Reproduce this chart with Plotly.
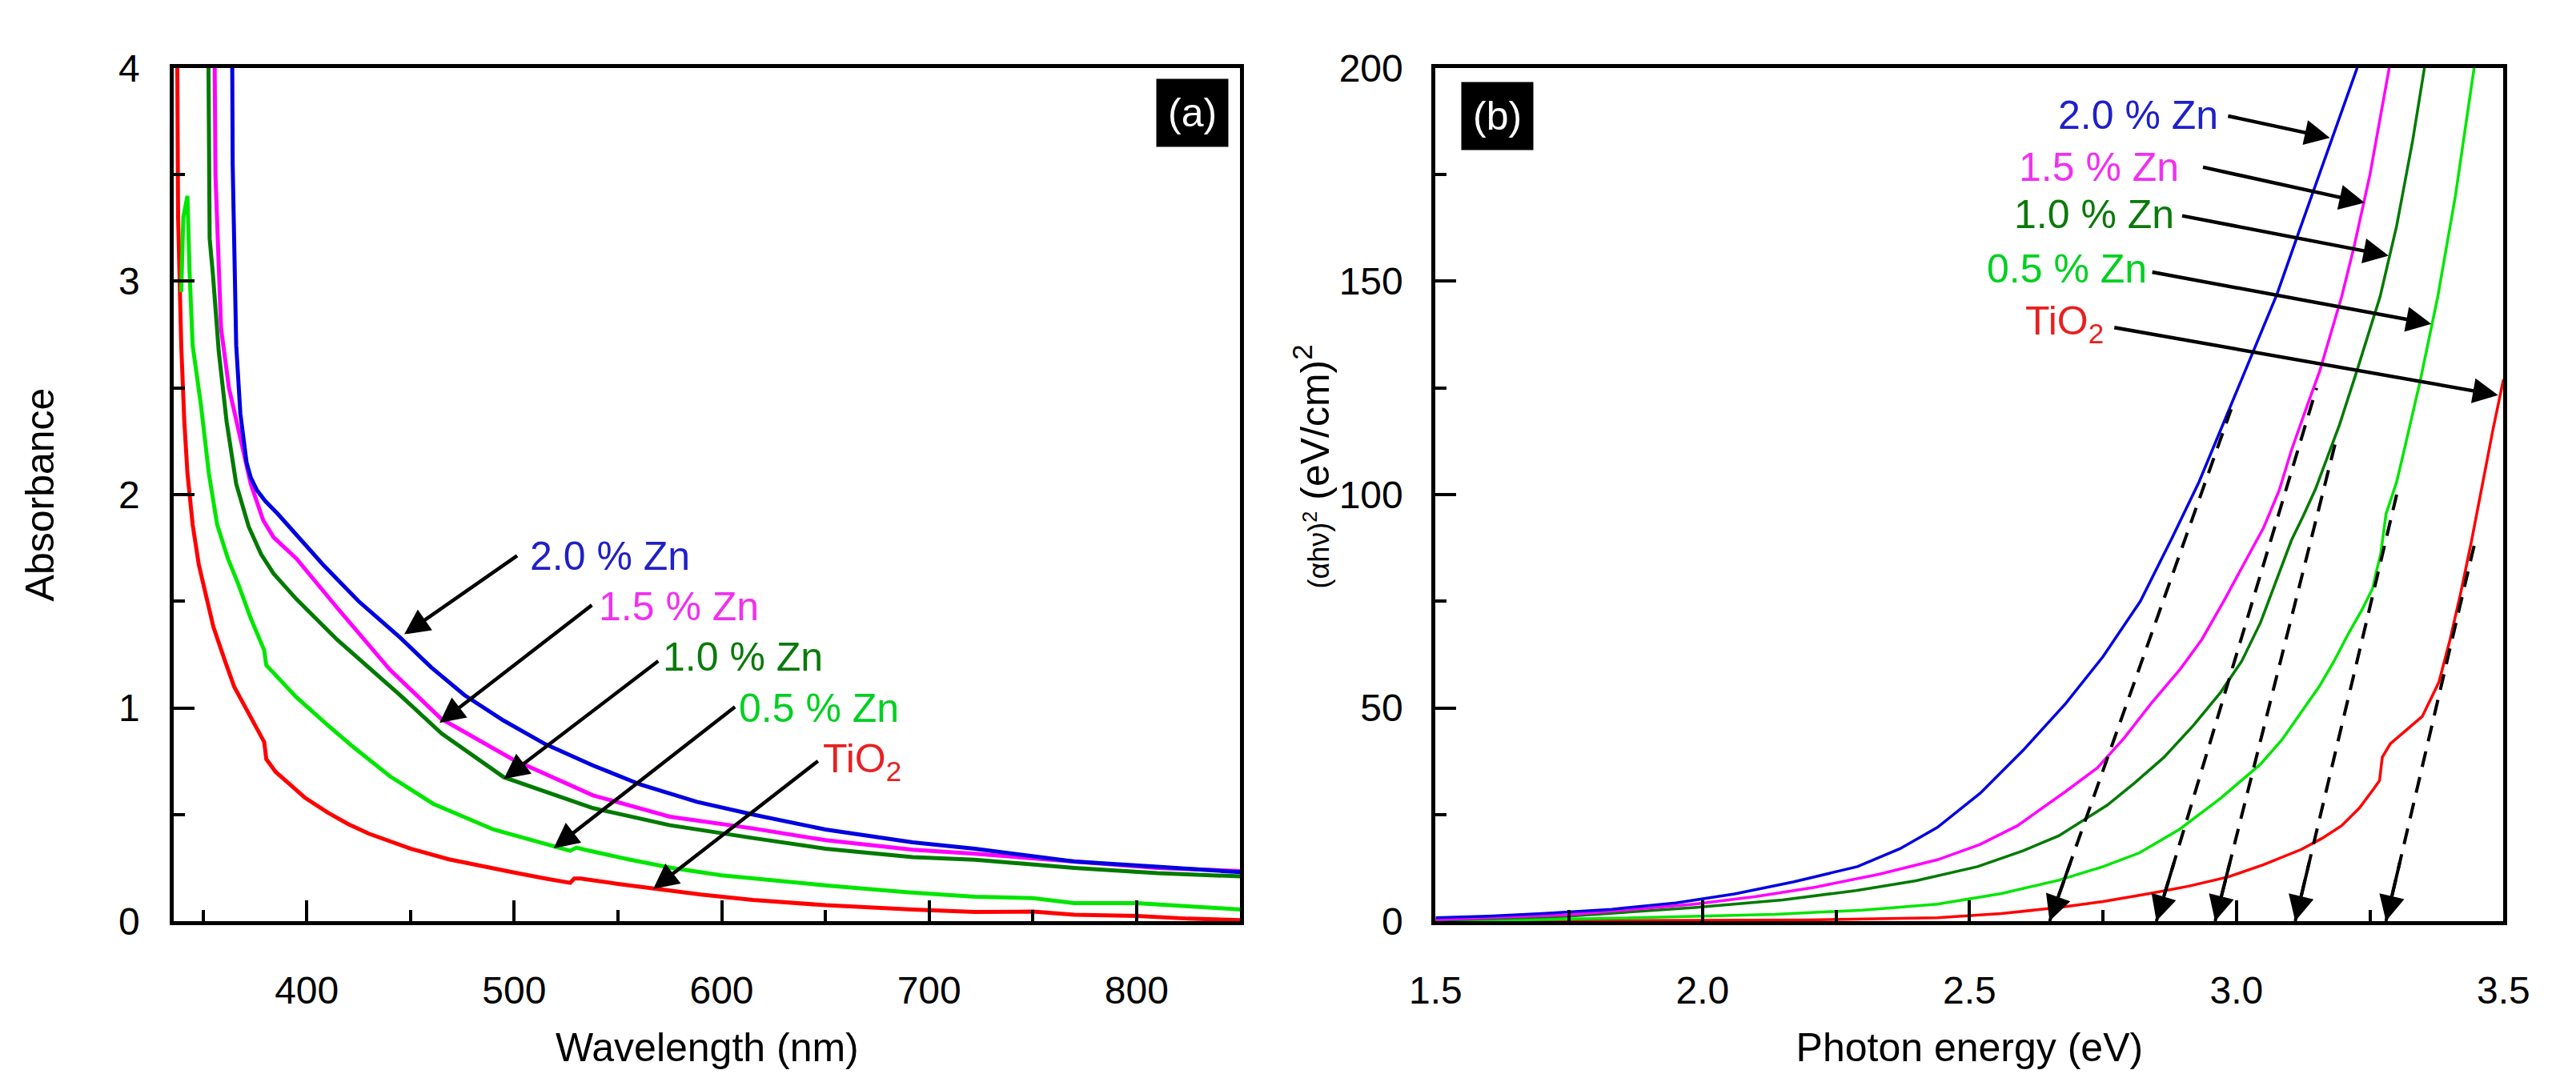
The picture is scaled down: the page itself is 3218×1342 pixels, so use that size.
import plotly.graph_objects as go

# ---- panel (a): absorbance vs wavelength (nm) ----
wl_tio2 = [337.5, 338, 339.5, 341, 342.5, 345, 348, 351, 355, 360.6, 365, 370, 375, 379.5, 380.5,
           385, 392, 399, 410, 420, 430, 450, 468.5, 485, 499, 515, 527, 529, 532, 550, 569, 590,
           615, 650, 692, 722, 750, 770, 800, 825, 850]
abs_tio2 = [4.2, 3.3, 2.7, 2.34, 2.1, 1.86, 1.67, 1.55, 1.38, 1.22, 1.1, 1.01, 0.92, 0.84, 0.76,
            0.70, 0.64, 0.58, 0.51, 0.455, 0.41, 0.34, 0.29, 0.26, 0.23, 0.20, 0.18, 0.20, 0.20, 0.175, 0.15, 0.125,
            0.10, 0.075, 0.055, 0.043, 0.045, 0.03, 0.025, 0.012, 0.005]

wl_zn05 = [339.5, 340.5, 342.5, 343.5, 345, 349, 352.8, 356.8, 362, 367, 373, 378, 379.5, 380.5,
           390, 395, 410, 422, 440, 461, 490, 515, 527, 530, 534, 555, 576, 600, 625, 653, 690,
           722, 750, 770, 800, 825, 850]
abs_zn05 = [2.95, 3.3, 3.40, 3.05, 2.7, 2.42, 2.10, 1.86, 1.70, 1.58, 1.42, 1.30, 1.27, 1.20,
            1.10, 1.05, 0.92, 0.82, 0.68, 0.55, 0.43, 0.36, 0.33, 0.345, 0.335, 0.29, 0.25, 0.215, 0.19, 0.165, 0.135,
            0.115, 0.108, 0.085, 0.085, 0.07, 0.055]

wl_zn10 = [352.5, 353.2, 354.8, 357.6, 361.4, 366, 372, 378, 384, 395, 414.6, 445, 465, 495, 538,
           575, 615, 650, 692, 722, 770, 810, 850]
abs_zn10 = [4.2, 3.2, 3.03, 2.67, 2.34, 2.05, 1.85, 1.72, 1.63, 1.51, 1.32, 1.06, 0.88, 0.675, 0.53,
            0.45, 0.39, 0.34, 0.30, 0.288, 0.25, 0.225, 0.21]

wl_zn15 = [355.5, 356, 357, 358.7, 362.5, 368, 373, 379, 384, 395, 414.6, 440, 464.7, 499, 538,
           575, 615, 650, 692, 722, 770, 810, 850]
abs_zn15 = [4.2, 3.5, 3.23, 2.78, 2.5, 2.26, 2.05, 1.88, 1.80, 1.70, 1.47, 1.18, 0.95, 0.76, 0.59,
            0.49, 0.435, 0.38, 0.335, 0.316, 0.28, 0.25, 0.235]

wl_zn20 = [364, 364.3, 366, 368, 371, 373, 376, 380, 386, 395, 408, 425, 445, 460, 476, 495, 515,
           538, 561, 588, 615, 650, 692, 722, 770, 810, 850]
abs_zn20 = [4.2, 3.55, 2.7, 2.38, 2.15, 2.08, 2.02, 1.97, 1.91, 1.81, 1.67, 1.50, 1.33, 1.19, 1.06, 0.94, 0.83,
            0.73, 0.64, 0.56, 0.50, 0.43, 0.37, 0.34, 0.28, 0.255, 0.23]

# ---- panel (b): (alpha h nu)^2 vs photon energy (eV) ----
ev_tio2 = [1.5, 2.0, 2.2, 2.44, 2.56, 2.667, 2.75, 2.833, 2.91, 2.985, 3.05, 3.121, 3.16, 3.197, 3.23,
           3.258, 3.268, 3.273, 3.288, 3.32, 3.348, 3.379, 3.40, 3.42, 3.44, 3.46, 3.48, 3.50]
tauc_tio2 = [0, 0.1, 0.3, 0.8, 1.8, 3.2, 4.6, 6.4, 8.2, 10.4, 13.2, 16.8, 19.4, 22.4, 26.5,
             31.2, 33, 38.4, 41.6, 45, 48, 56, 66, 77, 89, 102, 115, 127]

ev_zn05 = [1.5, 1.8, 2.136, 2.3, 2.44, 2.56, 2.667, 2.75, 2.818, 2.894, 2.97, 3.045, 3.085, 3.121, 3.155,
           3.182, 3.21, 3.235, 3.255, 3.262, 3.27, 3.28, 3.3, 3.314, 3.344, 3.377, 3.41, 3.445]
tauc_zn05 = [0, 0.6, 1.6, 2.6, 4, 6.5, 9.6, 12.8, 16, 21.6, 28.8, 36.8, 42.5, 48.8, 55,
             60.8, 67.5, 73, 78, 82, 86, 95.4, 103, 110.4, 126.6, 146.4, 170, 200]

ev_zn10 = [1.5, 1.75, 1.985, 2.15, 2.288, 2.4, 2.515, 2.6, 2.667, 2.758, 2.81, 2.864, 2.92, 2.97, 3.01,
           3.045, 3.075, 3.103, 3.125, 3.148, 3.193, 3.224, 3.269, 3.30, 3.33, 3.352]
tauc_zn10 = [0.2, 1.2, 3.2, 5, 7.2, 9.5, 12.8, 16.5, 20, 27.2, 32.5, 38.4, 46, 53.6, 61,
             70, 80, 89.3, 95, 101.3, 116.4, 128.4, 146.4, 163, 183, 200]

ev_zn15 = [1.5, 1.75, 1.985, 2.1, 2.212, 2.33, 2.44, 2.52, 2.59, 2.68, 2.74, 2.79, 2.84, 2.894, 2.935,
           2.976, 3.015, 3.051, 3.08, 3.103, 3.13, 3.156, 3.197, 3.22, 3.25, 3.286]
tauc_zn15 = [0.4, 1.5, 4, 5.8, 8, 11, 14.4, 18, 22.4, 30.4, 36, 43, 51, 59, 66,
             75, 84, 92.3, 101, 110.4, 120, 129, 146.4, 158, 175, 200]

ev_zn20 = [1.5, 1.6, 1.7, 1.83, 1.95, 2.06, 2.17, 2.29, 2.37, 2.44, 2.52, 2.60, 2.68, 2.75, 2.82,
           2.88, 2.93, 2.98, 3.03, 3.076, 3.111, 3.145, 3.18, 3.226]
tauc_zn20 = [0.8, 1.2, 1.8, 2.8, 4.3, 6.4, 9.2, 12.8, 17, 22, 30, 40, 51, 62, 75,
             90, 103, 118, 133, 147, 159.5, 171.5, 184, 200]

# tangent extrapolations: band gap intercept and upper end of each dashed line
gap_ev = [2.65, 2.85, 2.96, 3.11, 3.28]
tan_top_ev = [2.99, 3.15, 3.185, 3.30, 3.445]
tan_top_val = [120, 125, 112, 100, 88]

names = ["TiO<sub>2</sub>", "0.5 % Zn", "1.0 % Zn", "1.5 % Zn", "2.0 % Zn"]
line_colors = ["#FF0000", "#00E600", "#007A00", "#FF00FF", "#0000E0"]
text_colors = ["#E82020", "#00D020", "#0A7A0A", "#F030F0", "#2020C8"]

# label anchors (a): text left edge, arrow tail, arrow tip
lab_a_x = [648, 607.5, 571, 540, 507]
lab_a_y = [0.75, 1.0, 1.237, 1.475, 1.712]
arr_a_tail_x = [647, 607, 570, 538, 502]
arr_a_tail_y = [0.755, 1.009, 1.224, 1.486, 1.717]
arr_a_tip_x = [567, 519, 495, 464, 447]
arr_a_tip_y = [0.151, 0.342, 0.667, 0.93, 1.345]

# label anchors (b): text right edge, arrow tail, arrow tip
lab_b_x = [2.754, 2.836, 2.887, 2.896, 2.969]
lab_b_y = [140, 152.9, 165.7, 176.8, 189]
arr_b_tail_x = [2.769, 2.84, 2.896, 2.935, 2.982]
arr_b_tail_y = [139.2, 152.2, 165.4, 176.8, 188.8]
arr_b_tip_x = [3.49, 3.365, 3.285, 3.24, 3.175]
arr_b_tip_y = [123.3, 140, 156, 168.4, 183.6]

FONT = "Arial, Liberation Sans, sans-serif"

fig = go.Figure()

series_a = [(wl_tio2, abs_tio2), (wl_zn05, abs_zn05), (wl_zn10, abs_zn10),
            (wl_zn15, abs_zn15), (wl_zn20, abs_zn20)]
series_b = [(ev_tio2, tauc_tio2), (ev_zn05, tauc_zn05), (ev_zn10, tauc_zn10),
            (ev_zn15, tauc_zn15), (ev_zn20, tauc_zn20)]

for (xs, ys), c in zip(series_a, line_colors):
    fig.add_trace(go.Scatter(x=xs, y=ys, mode="lines", line=dict(color=c, width=5),
                             xaxis="x", yaxis="y", showlegend=False))

for (xs, ys), c in zip(series_b, line_colors):
    fig.add_trace(go.Scatter(x=xs, y=ys, mode="lines", line=dict(color=c, width=3.5),
                             xaxis="x2", yaxis="y2", showlegend=False))

for g, te, tv in zip(gap_ev, tan_top_ev, tan_top_val):
    fig.add_trace(go.Scatter(x=[g, te], y=[0, tv], mode="lines",
                             line=dict(color="black", width=4, dash="20px,13px"),
                             xaxis="x2", yaxis="y2", showlegend=False))

ann = []
for i in range(5):
    # panel (a)
    ann.append(dict(x=arr_a_tip_x[i], y=arr_a_tip_y[i], ax=arr_a_tail_x[i], ay=arr_a_tail_y[i],
                    xref="x", yref="y", axref="x", ayref="y", text="", showarrow=True,
                    arrowhead=2, arrowsize=1.4, arrowwidth=4.5, arrowcolor="black",
                    standoff=0, startstandoff=0))
    ann.append(dict(x=lab_a_x[i], y=lab_a_y[i], xref="x", yref="y", text=names[i],
                    showarrow=False, xanchor="left", yanchor="middle",
                    font=dict(family=FONT, size=50, color=text_colors[i])))
    # panel (b)
    ann.append(dict(x=arr_b_tip_x[i], y=arr_b_tip_y[i], ax=arr_b_tail_x[i], ay=arr_b_tail_y[i],
                    xref="x2", yref="y2", axref="x2", ayref="y2", text="", showarrow=True,
                    arrowhead=2, arrowsize=1.4, arrowwidth=4.5, arrowcolor="black",
                    standoff=0, startstandoff=0))
    ann.append(dict(x=lab_b_x[i], y=lab_b_y[i], xref="x2", yref="y2", text=names[i],
                    showarrow=False, xanchor="right", yanchor="middle",
                    font=dict(family=FONT, size=50, color=text_colors[i])))

# arrowheads at the bottom of the dashed tangent lines
for g, te, tv in zip(gap_ev, tan_top_ev, tan_top_val):
    f = 14.0 / tv
    ann.append(dict(x=g, y=0, ax=g + (te - g) * f, ay=tv * f,
                    xref="x2", yref="y2", axref="x2", ayref="y2", text="", showarrow=True,
                    arrowhead=2, arrowsize=1.6, arrowwidth=4, arrowcolor="black",
                    standoff=0, startstandoff=0))

ann.append(dict(x=0.989, y=0.988, xref="x domain", yref="y domain", text="(a)",
                showarrow=False, xanchor="right", yanchor="top", bgcolor="black",
                borderpad=14, font=dict(family=FONT, size=50, color="white")))
ann.append(dict(x=0.0235, y=0.984, xref="x2 domain", yref="y2 domain", text="(b)",
                showarrow=False, xanchor="left", yanchor="top", bgcolor="black",
                borderpad=14, font=dict(family=FONT, size=50, color="white")))

# y title of panel (b), placed as rotated text
ann.append(dict(x=0.5071, y=0.574, xref="paper", yref="paper", textangle=-90,
                text="<span style='font-size:36px'>(αhν)<sup>2</sup></span> (eV/cm)<sup>2</sup>",
                showarrow=False, xanchor="center", yanchor="middle",
                font=dict(family=FONT, size=50, color="black")))

axis_common = dict(showline=True, linewidth=5, linecolor="black", mirror=True,
                   ticks="inside", ticklen=26, tickwidth=4, tickcolor="black",
                   showgrid=False, zeroline=False,
                   tickfont=dict(family=FONT, size=48, color="black"))
minor_common = dict(ticks="inside", ticklen=14, tickwidth=4, tickcolor="black", showgrid=False)

fig.update_layout(
    width=3218, height=1342, autosize=False,
    margin=dict(l=0, r=0, t=0, b=0),
    paper_bgcolor="white", plot_bgcolor="white",
    font=dict(family=FONT, size=48, color="black"),
    xaxis=dict(domain=[0.05594, 0.47856], range=[336, 850], dtick=100, tick0=0,
               minor=dict(dtick=50, **minor_common), ticklabelstandoff=40,
               title=dict(text="Wavelength (nm)", standoff=30, font=dict(family=FONT, size=50)),
               anchor="y", **axis_common),
    yaxis=dict(domain=[0.13338, 0.96051], range=[0, 4], dtick=1,
               minor=dict(dtick=0.5, **minor_common), ticklabelstandoff=28,
               title=dict(text="Absorbance", standoff=66, font=dict(family=FONT, size=50)),
               anchor="x", **axis_common),
    xaxis2=dict(domain=[0.55594, 0.97918], range=[1.5, 3.5], dtick=0.5, tick0=1.5, tickformat=".1f",
                minor=dict(dtick=0.25, **minor_common), ticklabelstandoff=40,
                title=dict(text="Photon energy (eV)", standoff=30, font=dict(family=FONT, size=50)),
                anchor="y2", **axis_common),
    yaxis2=dict(domain=[0.13338, 0.96051], range=[0, 200], dtick=50,
                minor=dict(dtick=25, **minor_common), ticklabelstandoff=26,
                anchor="x2", **axis_common),
    annotations=ann,
)

fig.write_html("out.html")
